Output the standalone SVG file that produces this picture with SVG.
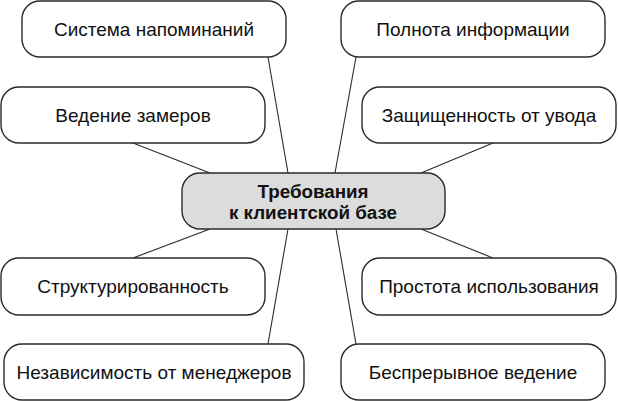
<svg xmlns="http://www.w3.org/2000/svg" width="618" height="401" viewBox="0 0 618 401">
<style>
.box{fill:#fff;stroke:#2a2a2a;stroke-width:1.4}
.core{fill:#dcdcdc;stroke:#2a2a2a;stroke-width:1.4}
.lbl{font-family:"Liberation Sans",Arial,sans-serif;font-size:19px;fill:#111;text-anchor:middle}
.ttl{font-family:"Liberation Sans",Arial,sans-serif;font-size:18.8px;font-weight:bold;fill:#111;text-anchor:middle}
.con line{stroke:#2a2a2a;stroke-width:1.1}
</style>
<rect width="618" height="401" fill="#fff"/>
<g class="con" id="connectors">
<line x1="268" y1="57" x2="288" y2="173"/>
<line x1="133" y1="143" x2="210" y2="173"/>
<line x1="356" y1="57" x2="335" y2="173"/>
<line x1="493" y1="143" x2="421" y2="173"/>
<line x1="133" y1="258" x2="210" y2="229"/>
<line x1="268" y1="344" x2="288" y2="229"/>
<line x1="493" y1="258" x2="421" y2="229"/>
<line x1="356" y1="344" x2="336" y2="229"/>
</g>
<g id="center"><rect class="core" x="182" y="173" width="263" height="56" rx="18"/>
<text class="ttl" x="313" y="198">Требования</text><text class="ttl" x="313" y="219">к клиентской базе</text></g>
<g id="n1"><rect class="box" x="22" y="1" width="264" height="56" rx="18"/><text class="lbl" x="154" y="36">Система напоминаний</text></g>
<g id="n2"><rect class="box" x="1" y="87" width="264" height="56" rx="18"/><text class="lbl" x="133" y="122">Ведение замеров</text></g>
<g id="n3"><rect class="box" x="341" y="1" width="264" height="56" rx="18"/><text class="lbl" x="473" y="36">Полнота информации</text></g>
<g id="n4"><rect class="box" x="362" y="87" width="254" height="56" rx="18"/><text class="lbl" x="489" y="122">Защищенность от увода</text></g>
<g id="n5"><rect class="box" x="1" y="258" width="264" height="57" rx="18"/><text class="lbl" x="133" y="293">Структурированность</text></g>
<g id="n6"><rect class="box" x="4" y="344" width="300" height="56" rx="18"/><text class="lbl" x="154" y="379">Независимость от менеджеров</text></g>
<g id="n7"><rect class="box" x="362" y="258" width="254" height="57" rx="18"/><text class="lbl" x="489" y="293">Простота использования</text></g>
<g id="n8"><rect class="box" x="341" y="344" width="264" height="56" rx="18"/><text class="lbl" x="473" y="379">Беспрерывное ведение</text></g>
</svg>
